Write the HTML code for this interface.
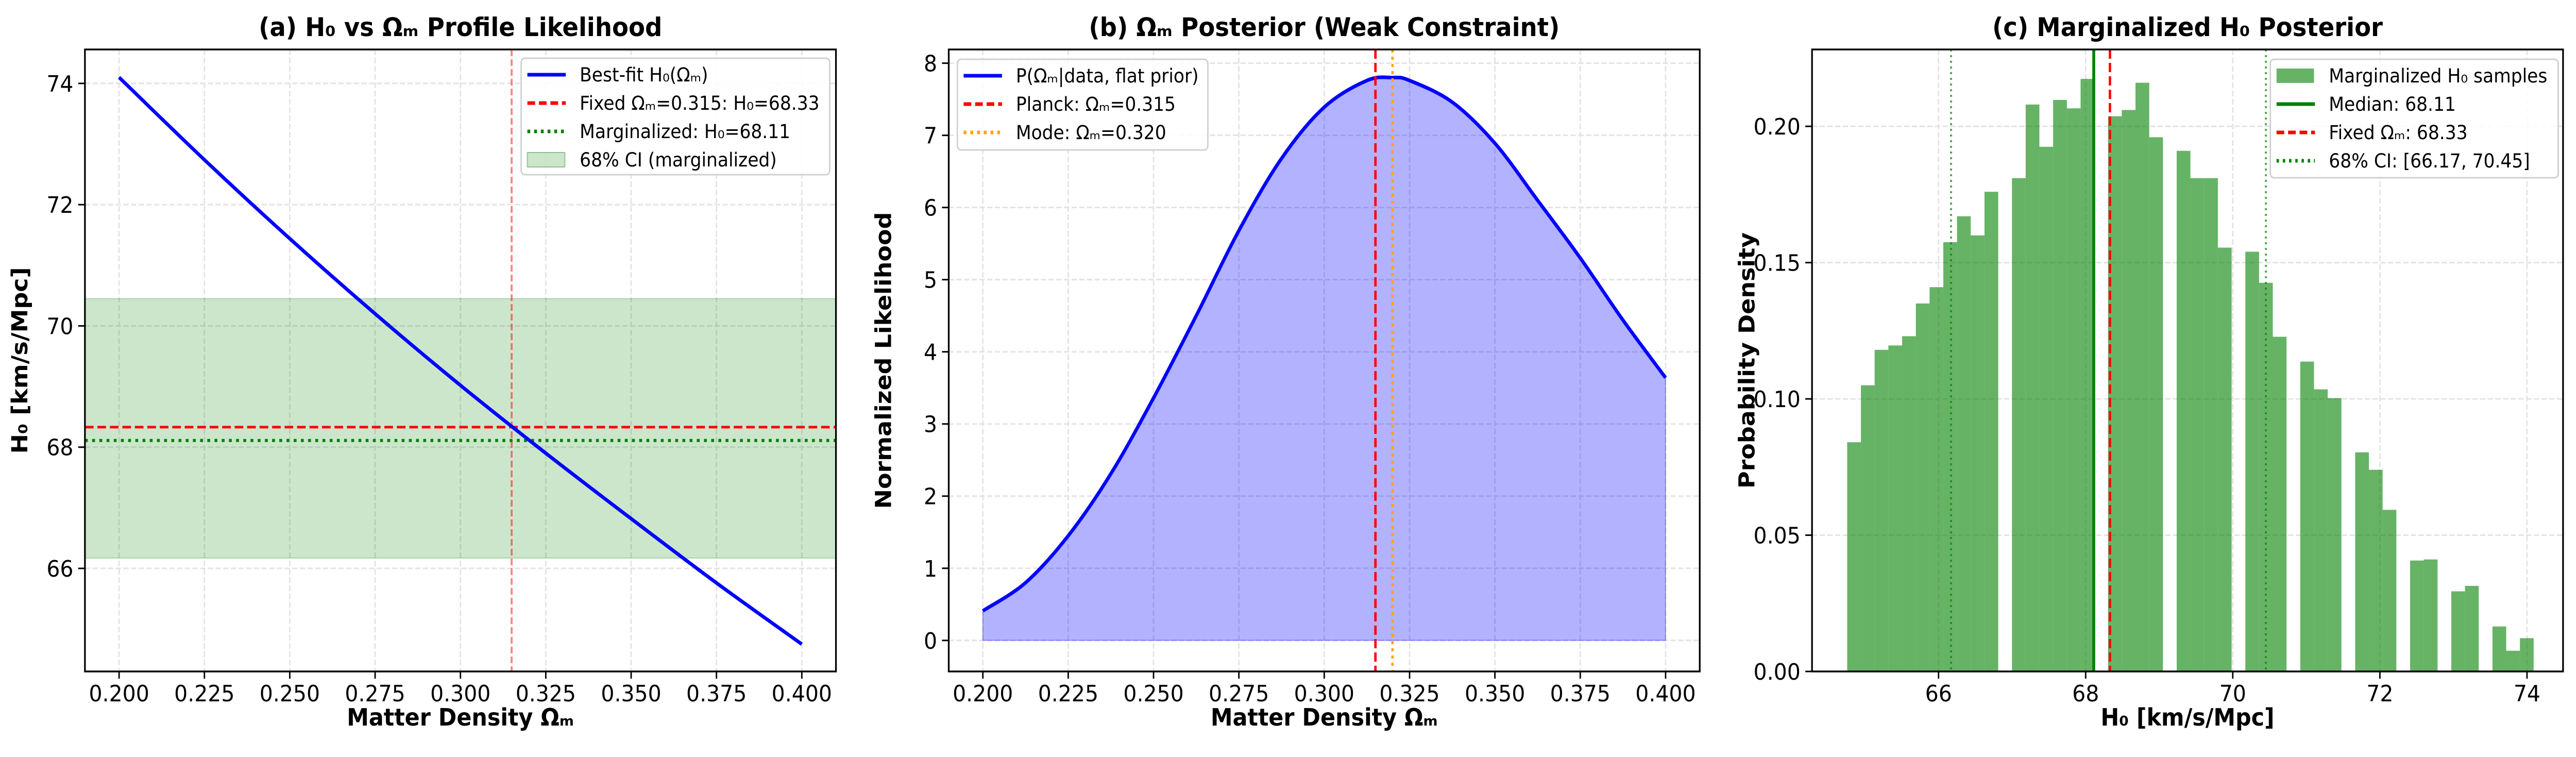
<!DOCTYPE html>
<html><head><meta charset="utf-8"><style>
html,body{margin:0;padding:0;background:#fff;width:100vw;height:100vh;overflow:hidden;}
svg{display:block;font-family:"DejaVu Sans","Liberation Sans",sans-serif;overflow:hidden;width:100vw;height:100vh;}
</style></head><body>
<svg id="fig" viewBox="0 0 5368 1469" preserveAspectRatio="none" xmlns="http://www.w3.org/2000/svg"></svg>
<script>
// Panel (a) data
const omegaA = [0.2, 0.225, 0.25, 0.275, 0.3, 0.325, 0.35, 0.375, 0.4];
const h0A = [74.1, 72.74, 71.44, 70.2, 69.02, 67.9, 66.82, 65.76, 64.75];
const fixedH0 = 68.33, margH0 = 68.11, ciLow = 66.17, ciHigh = 70.45, planckOm = 0.315, modeOm = 0.320;
// Panel (b) data
const omegaB = [0.2, 0.2125, 0.225, 0.2375, 0.25, 0.2625, 0.275, 0.2875, 0.3, 0.3125, 0.32, 0.325, 0.3375, 0.35, 0.3625, 0.375, 0.3875, 0.4];
const likeB = [0.41, 0.8, 1.45, 2.31, 3.36, 4.5, 5.68, 6.68, 7.39, 7.76, 7.8, 7.76, 7.46, 6.89, 6.1, 5.3, 4.44, 3.64];
// Panel (c) data
const histStart = 64.758, histWidth = 0.18665;
const histDensity = [0.0841,0.105,0.118,0.1196,0.123,0.135,0.141,0.1575,0.167,0.160,0.176,0,0.181,0.208,0.1925,0.2097,0.2066,0.2174,0,0.2037,0.206,0.216,0.196,0,0.191,0.181,0.181,0.1555,0,0.154,0.1426,0.1228,0,0.1137,0.1035,0.1003,0,0.0804,0.074,0.0593,0,0.0407,0.0411,0,0.0294,0.0314,0,0.0165,0.0076,0.0122];
const ticksAx = [0.2,0.225,0.25,0.275,0.3,0.325,0.35,0.375,0.4];
const ticksAy = [66,68,70,72,74];
const ticksBy = [0,1,2,3,4,5,6,7,8];
const ticksCx = [66,68,70,72,74];
const ticksCy = [0,0.05,0.10,0.15,0.20];

const NS = "http://www.w3.org/2000/svg";
const svg = document.getElementById('fig');
function mk(tag, attrs, parent, text){
  const e = document.createElementNS(NS, tag);
  for (const k in attrs) e.setAttribute(k, attrs[k]);
  if (text !== undefined) e.textContent = text;
  (parent||svg).appendChild(e);
  return e;
}
const T = 96, B = 1303, W = 1565;
function scales(left, xmin, xmax, ymin, ymax){
  return {x: v => left + (v - xmin) / (xmax - xmin) * W,
          y: v => B - (v - ymin) / (ymax - ymin) * (B - T), left: left, right: left + W};
}
function smoothPath(pts){
  let d = 'M' + pts[0][0] + ',' + pts[0][1];
  for (let i = 0; i < pts.length - 1; i++){
    const p0 = pts[Math.max(0,i-1)], p1 = pts[i], p2 = pts[i+1], p3 = pts[Math.min(pts.length-1,i+2)];
    const c1x = p1[0] + (p2[0]-p0[0])/6, c1y = p1[1] + (p2[1]-p0[1])/6;
    const c2x = p2[0] - (p3[0]-p1[0])/6, c2y = p2[1] - (p3[1]-p1[1])/6;
    d += ' C' + c1x + ',' + c1y + ' ' + c2x + ',' + c2y + ' ' + p2[0] + ',' + p2[1];
  }
  return d;
}
function grid(g, s, xt, yt){
  xt.forEach(v => { const l = mk('line',{x1:s.x(v),x2:s.x(v),y1:T,y2:B,stroke:'#e3e3e3','stroke-width':3,'stroke-dasharray':'11,5'},g);
      });
  yt.forEach(v => { const l = mk('line',{x1:s.left,x2:s.right,y1:s.y(v),y2:s.y(v),stroke:'#e3e3e3','stroke-width':3,'stroke-dasharray':'11,5'},g);
      });
}
function axes(g, s, xt, yt, xfmt, yfmt, title, xlab, ylab){
  mk('rect',{x:s.left,y:T,width:W,height:B-T,fill:'none',stroke:'#000','stroke-width':3.5},g);
  xt.forEach(v => {
    mk('line',{x1:s.x(v),x2:s.x(v),y1:B,y2:B+14,stroke:'#000','stroke-width':3},g);
    const t = mk('text',{x:s.x(v),y:B+58,'font-size':44,'text-anchor':'middle'},g,xfmt(v));
     
  });
  yt.forEach(v => {
    mk('line',{x1:s.left-14,x2:s.left,y1:s.y(v),y2:s.y(v),stroke:'#000','stroke-width':3},g);
    const t = mk('text',{x:s.left-24,y:s.y(v)+16,'font-size':44,'text-anchor':'end'},g,yfmt(v));
     
  });
  const tt = mk('text',{x:s.left+W/2,y:70,'font-size':50,'font-weight':'bold','text-anchor':'middle'},g,title);
   
  const xl = mk('text',{x:s.left+W/2,y:1408,'font-size':46,'font-weight':'bold','text-anchor':'middle'},g,xlab);
   
  const yl = mk('text',{x:0,y:0,'font-size':46,'font-weight':'bold','text-anchor':'middle',transform:`translate(${s.left-120},${(T+B)/2}) rotate(-90)`},g,ylab);
   
}
function legend(g, x, y, w, h, rows){
  const box = mk('rect',{x:x,y:y,width:w,height:h,rx:8,fill:'#fff','fill-opacity':0.85,stroke:'#d0d0d0','stroke-width':3},g);
   
  rows.forEach((r,i) => {
    const cy = y + 32 + i*55;
    if (r.patch) mk('rect',{x:x+13,y:cy-14,width:78,height:28,fill:r.color,'fill-opacity':r.op,stroke:r.stroke||'none','stroke-width':2},g);
    else mk('line',{x1:x+13,x2:x+93,y1:cy,y2:cy,stroke:r.color,'stroke-width':r.sw||7,'stroke-dasharray':r.dash||'none'},g);
    const t = mk('text',{x:x+122,y:cy+13,'font-size':37},g,r.label);
     
  });
}
const f3 = v => v.toFixed(3), f0 = v => v.toFixed(0), f2 = v => v.toFixed(2);

// ---------- Panel A ----------
const gA = mk('g',{});  
const sA = scales(177, 0.19, 0.41, 64.3, 74.56);
grid(gA, sA, ticksAx, ticksAy);
const band = mk('rect',{x:sA.left,y:sA.y(ciHigh),width:W,height:sA.y(ciLow)-sA.y(ciHigh),fill:'#008000','fill-opacity':0.2,stroke:'#008000','stroke-opacity':0.25,'stroke-width':2},gA);
 
const vl = mk('line',{x1:sA.x(planckOm),x2:sA.x(planckOm),y1:T,y2:B,stroke:'#ff0000','stroke-opacity':0.5,'stroke-width':4,'stroke-dasharray':'13,6'},gA);
 
const hf = mk('line',{x1:sA.left,x2:sA.right,y1:sA.y(fixedH0),y2:sA.y(fixedH0),stroke:'#ff0000','stroke-width':5,'stroke-dasharray':'18,8'},gA);
 
const hm = mk('line',{x1:sA.left,x2:sA.right,y1:sA.y(margH0),y2:sA.y(margH0),stroke:'#008000','stroke-width':6,'stroke-dasharray':'6,9'},gA);
 
const pA = mk('path',{d:smoothPath(omegaA.map((o,i)=>[sA.x(o),sA.y(h0A[i])])),fill:'none',stroke:'#0000ff','stroke-width':7},gA);
 
axes(gA, sA, ticksAx, ticksAy, f3, f0, '(a) H₀ vs Ωₘ Profile Likelihood', 'Matter Density Ωₘ', 'H₀ [km/s/Mpc]');
legend(gA, 1086, 113, 643, 226, [
  {color:'#0000ff',label:'Best-fit H₀(Ωₘ)'},
  {color:'#ff0000',dash:'16,8',label:'Fixed Ωₘ=0.315: H₀=68.33'},
  {color:'#008000',dash:'6,8',label:'Marginalized: H₀=68.11'},
  {patch:true,color:'#008000',op:0.2,stroke:'#8fc08f',label:'68% CI (marginalized)'}]);

// ---------- Panel B ----------
const gB = mk('g',{});  
const sB = scales(1977, 0.19, 0.41, -0.43, 8.19);
grid(gB, sB, ticksAx, ticksBy);
const ptsB = omegaB.map((o,i)=>[sB.x(o), sB.y(likeB[i])]);
const curveB = smoothPath(ptsB);
const fB = mk('path',{d:curveB + ' L' + sB.x(omegaB[omegaB.length-1]) + ',' + sB.y(0) + ' L' + sB.x(omegaB[0]) + ',' + sB.y(0) + ' Z',fill:'#0000ff','fill-opacity':0.3,stroke:'#0000ff','stroke-opacity':0.3,'stroke-width':2},gB);
 
const pB = mk('path',{d:curveB,fill:'none',stroke:'#0000ff','stroke-width':7},gB);
 
const pl = mk('line',{x1:sB.x(planckOm),x2:sB.x(planckOm),y1:T,y2:B,stroke:'#ff0000','stroke-width':5,'stroke-dasharray':'18,8'},gB);
 
const ml = mk('line',{x1:sB.x(modeOm),x2:sB.x(modeOm),y1:T,y2:B,stroke:'#ffa500','stroke-width':5,'stroke-dasharray':'6,8'},gB);
 
axes(gB, sB, ticksAx, ticksBy, f3, f0, '(b) Ωₘ Posterior (Weak Constraint)', 'Matter Density Ωₘ', 'Normalized Likelihood');
legend(gB, 1995, 115, 522, 176, [
  {color:'#0000ff',label:'P(Ωₘ|data, flat prior)'},
  {color:'#ff0000',dash:'16,8',label:'Planck: Ωₘ=0.315'},
  {color:'#ffa500',dash:'6,8',label:'Mode: Ωₘ=0.320'}]);

// ---------- Panel C ----------
const gC = mk('g',{});  
const sC = scales(3776, 64.28, 74.49, 0, 0.2282);
grid(gC, sC, ticksCx, ticksCy);
histDensity.forEach((d,i) => {
  if (d <= 0) return;
  const x0 = histStart + i*histWidth;
  const r = mk('rect',{x:sC.x(x0),y:sC.y(d),width:sC.x(x0+histWidth)-sC.x(x0),height:sC.y(0)-sC.y(d),fill:'#008000','fill-opacity':0.6},gC);
   
});
const md = mk('line',{x1:sC.x(margH0),x2:sC.x(margH0),y1:T,y2:B,stroke:'#008000','stroke-width':6},gC);
 
const fx = mk('line',{x1:sC.x(fixedH0),x2:sC.x(fixedH0),y1:T,y2:B,stroke:'#ff0000','stroke-width':5,'stroke-dasharray':'18,8'},gC);
 
[ciLow, ciHigh].forEach(v => {
  const c = mk('line',{x1:sC.x(v),x2:sC.x(v),y1:T,y2:B,stroke:'#008000','stroke-opacity':0.7,'stroke-width':4,'stroke-dasharray':'4,7'},gC);
   
});
axes(gC, sC, ticksCx, ticksCy, f0, f2, '(c) Marginalized H₀ Posterior', 'H₀ [km/s/Mpc]', 'Probability Density');
legend(gC, 4731, 115, 600, 230, [
  {patch:true,color:'#008000',op:0.6,label:'Marginalized H₀ samples'},
  {color:'#008000',label:'Median: 68.11'},
  {color:'#ff0000',dash:'16,8',label:'Fixed Ωₘ: 68.33'},
  {color:'#008000',dash:'5,8',label:'68% CI: [66.17, 70.45]'}]);
</script>
</body></html>
